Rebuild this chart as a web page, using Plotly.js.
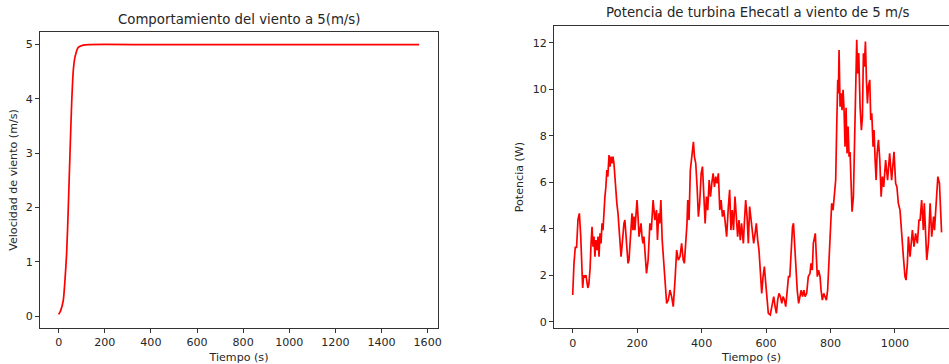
<!DOCTYPE html>
<html>
<head>
<meta charset="utf-8">
<script src="https://cdn.plot.ly/plotly-3.0.1.min.js"></script>
<style>html,body{margin:0;padding:0;background:#fff;}#chart{width:949px;height:364px;}</style>
</head>
<body>
<div id="chart"></div>
<script>
// ---- Data ----
const windTime  = [0, 8.6, 20, 27.3, 34.5, 41.8, 49, 56.2, 63.5, 70.7, 85, 106.7, 130, 400, 800, 1200, 1563];
const windSpeed = [0.03, 0.10, 0.29, 0.66, 1.15, 2.01, 2.99, 3.91, 4.53, 4.77, 4.95, 4.99, 5.0, 5.0, 5.0, 5.0, 5.0];

const powerTime = [
  0, 2, 4, 8, 12, 16.5, 20.7, 25, 29, 31, 34, 38, 41, 44, 47, 50, 54, 57, 60, 63, 66, 69, 72, 75.5, 78.6, 81.7, 84.8,
  88, 91, 94, 97, 100, 103, 106, 109, 112.7, 115.8, 119, 122, 125, 128, 131, 134, 137, 140.6, 143.7, 146.8, 150,
  153, 156, 159, 162, 165.4, 168.5, 171.6, 174.7, 178, 181, 184, 187, 190, 193, 196.5, 199.6, 202.7, 205.8, 209,
  212, 215, 218, 221,
  224, 229, 234, 239.5, 244, 249.5, 255, 260, 263, 267, 270, 273.6, 277.7, 281, 286, 291.5, 296.6, 301.8, 307, 312,
  317.5, 322.6, 327.8, 333, 338, 343, 346.5, 350.5, 354.7, 357, 361, 365, 369.5, 374.6, 377.7, 381.8, 386, 390, 394,
  398.6, 402.7, 406.8, 411, 415, 419, 423.4, 427.5, 431.6, 435.7, 439.9, 444, 448, 452, 456.4, 460.5, 464.6, 468.8,
  472.5, 477.7, 483, 487, 491, 495, 499, 503.5, 507.7, 511.8, 516, 520, 524, 529.5, 532.6, 536.7, 541, 545, 549, 553,
  557, 561.6, 566, 569.8, 574, 578, 582, 586.5, 590.7, 594.7, 599, 603, 607, 613, 619.7, 623.7, 628, 632, 636, 640,
  644.6, 648.7, 652.8, 657, 661, 665, 669.6, 673.7, 678, 682, 685, 688.5, 692.6, 696.7, 701, 705, 709, 713, 717.5,
  721, 726, 731, 736.3, 739.4, 743.5, 746.6, 749.7, 752.8, 756, 759, 763, 767.5, 770.6, 774.7, 778.9, 783, 787, 791,
  795.4, 799.5, 803.6, 807.8, 812, 816, 819, 822.4, 824.4, 826.5, 829.6, 832.7, 835.8, 838.9, 842, 845, 848.2, 851.3,
  854.4, 857.5, 860.6, 863.7, 866.8, 871, 874, 877.2, 881.3, 884.4, 887.5, 891.7, 895.8, 899, 902, 905, 908.3, 911.4,
  914.5, 917.6, 921.7, 924.8, 928, 932, 935, 938.4, 941.5, 944.6, 948.7, 952.9, 957, 961, 965,
  971, 977, 983.5, 989.6, 997, 1002, 1006, 1010.4, 1015.6, 1021, 1026, 1031, 1034.3, 1038.5, 1041.6, 1046.8, 1054,
  1059, 1064, 1069.4, 1074.5, 1078, 1082.7, 1088, 1091, 1095, 1098.6, 1103.8, 1109, 1114, 1119.6, 1122.6, 1127.8,
  1133, 1138, 1144.5
];
const powerValue = [
  1.15, 2.0, 2.5, 3.2, 3.2, 4.4, 4.66, 3.66, 2.2, 1.45, 2.0, 1.9, 2.0, 1.7, 1.45, 1.6, 2.3, 3.37, 4.08, 3.23, 3.66, 2.8, 3.51, 3.08, 3.66, 2.8, 3.8,
  3.37, 4.23, 3.94, 4.8, 5.38, 5.8, 6.52, 6.24, 7.17, 6.67, 7.1, 6.81, 7.1, 6.81, 6.24, 5.38, 5.09, 4.66, 3.94, 3.37, 2.8,
  3.23, 3.94, 4.23, 4.37, 3.51, 2.8, 2.51, 2.65, 3.37, 4.23, 4.66, 3.94, 4.52, 3.94, 4.52, 5.23, 4.52, 3.66, 3.94,
  4.23, 3.66, 3.37, 3.66,
  3.08, 2.08, 2.65, 4.23, 3.94, 5.23, 4.37, 4.8, 3.51, 4.66, 4.23, 5.23, 3.51, 2.8, 1.94, 0.79, 0.93, 1.36, 1.08, 0.65,
  1.79, 3.08, 2.65, 2.8, 3.37, 2.65, 2.51, 3.37, 4.23, 5.23, 4.37, 6.52, 7.1, 7.74, 7.1, 6.81, 5.8, 4.52, 5.09,
  6.38, 6.67, 5.38, 4.23, 5.38, 4.8, 6.09, 5.38, 5.95, 6.38, 5.8, 6.24, 5.95, 6.38, 4.8, 5.23, 4.52, 4.8,
  4.37, 3.66, 4.95, 5.67, 3.94, 4.8, 3.94, 5.38, 4.52, 3.66, 4.37, 3.51, 4.23, 3.37, 4.23, 5.23, 4.52, 3.37, 4.95, 4.52,
  3.94, 3.37, 3.8, 4.23, 3.51, 3.08, 2.22, 1.22, 1.94, 2.37, 1.65, 0.93, 0.36, 0.29, 0.79, 1.08, 0.65, 0.36, 0.93, 1.22,
  1.08, 0.79, 1.08, 0.93, 0.65, 1.36, 1.94, 1.94, 3.08, 4.08, 4.23, 3.23, 2.08, 1.36, 0.79, 1.08, 1.36, 1.08, 1.36,
  1.08, 1.22, 1.94, 2.08, 2.51, 2.22, 3.37, 3.66, 3.8, 2.8, 1.94, 2.22, 1.94, 1.36, 0.93, 1.22, 1.08, 0.93, 1.36,
  2.8, 3.94, 5.09, 4.8, 5.52, 6.09, 8.24, 10.4, 9.82, 11.68, 9.25, 9.82, 9.1, 9.97, 9.1, 7.53, 9.2, 7.24,
  8.39, 7.1, 7.3, 5.67, 4.73, 5.38, 7.39, 9.68, 12.12, 10.68, 11.55, 9.25, 8.24, 8.82, 11.55, 10.97, 12.05, 10.4,
  9.39, 10.11, 10.4, 8.67, 8.96, 7.53, 8.24, 6.95, 6.09, 7.24, 7.82, 6.95, 5.38, 6.24, 5.8,
  6.95, 6.09, 7.24, 6.09, 7.31, 5.95, 5.8, 5.09, 4.8, 3.94, 2.8, 1.94, 1.79, 2.51, 3.66, 2.8, 3.94,
  3.23, 3.8, 3.37, 4.37, 4.37, 5.23, 3.94, 5.09, 3.8, 2.65, 3.37, 5.09, 3.66, 4.52, 3.94, 4.95,
  6.24, 5.95, 3.84
];

const leftTicks  = [0, 200, 400, 600, 800, 1000, 1200, 1400, 1600];
const leftYTicks = [0, 1, 2, 3, 4, 5];
const rightTicks = [0, 200, 400, 600, 800, 1000];
const rightYTicks = [0, 2, 4, 6, 8, 10, 12];

const leftTitle  = 'Comportamiento del viento a 5(m/s)';
const rightTitle = 'Potencia de turbina Ehecatl a viento de 5 m/s';
const xLabel = 'Tiempo (s)';
const leftYLabel = 'Velocidad de viento (m/s)';
const rightYLabel = 'Potencia (W)';

// ---- Chart ----
const W = 949, H = 364;
const txt = '#262626', frame = '#333333';
const tickFont = {family: 'DejaVu Sans, sans-serif', size: 11.1, color: txt};

function axisBase(extra) {
  return Object.assign({
    ticks: 'outside', ticklen: 4, tickwidth: 1, tickcolor: frame,
    showline: true, linecolor: frame, linewidth: 1,
    showgrid: false, zeroline: false, tickfont: tickFont, automargin: false
  }, extra);
}

const traces = [
  {x: windTime, y: windSpeed, type: 'scatter', mode: 'lines', xaxis: 'x', yaxis: 'y',
   line: {color: '#ff0000', width: 1.7, shape: 'spline', smoothing: 0.6}, hoverinfo: 'skip'},
  {x: powerTime, y: powerValue, type: 'scatter', mode: 'lines', xaxis: 'x2', yaxis: 'y2',
   line: {color: '#ff0000', width: 1.7}, hoverinfo: 'skip'}
];

const layout = {
  width: W, height: H,
  margin: {l: 0, r: 0, t: 0, b: 0},
  paper_bgcolor: '#ffffff', plot_bgcolor: '#ffffff',
  showlegend: false,
  font: {family: 'DejaVu Sans, sans-serif', size: 11.1, color: txt},
  xaxis: axisBase({domain: [40/W, 438/W], range: [-81, 1645], tickvals: leftTicks, mirror: true, anchor: 'y',
    title: {text: xLabel, standoff: 4, font: {size: 11.1, color: txt}}}),
  yaxis: axisBase({domain: [1 - 328/H, 1 - 32/H], range: [-0.221, 5.232], tickvals: leftYTicks, mirror: true, anchor: 'x',
    title: {text: leftYLabel, standoff: 5, font: {size: 11.1, color: txt}}}),
  xaxis2: axisBase({domain: [554/W, 1], range: [-58, 1167.6], tickvals: rightTicks, mirror: true, anchor: 'y2',
    title: {text: xLabel, standoff: 4, font: {size: 11.1, color: txt}}}),
  yaxis2: axisBase({domain: [1 - 328.3/H, 1 - 25.7/H], range: [-0.284, 12.73], tickvals: rightYTicks, mirror: false, anchor: 'x2',
    title: {text: rightYLabel, standoff: 6, font: {size: 11.1, color: txt}}}),
  annotations: [
    {text: leftTitle, xref: 'paper', yref: 'paper', x: 239/W, y: 1 - 19.5/H, xanchor: 'center', yanchor: 'middle',
     showarrow: false, font: {family: 'DejaVu Sans, sans-serif', size: 13.3, color: txt}},
    {text: rightTitle, xref: 'paper', yref: 'paper', x: 757/W, y: 1 - 13/H, xanchor: 'center', yanchor: 'middle',
     showarrow: false, font: {family: 'DejaVu Sans, sans-serif', size: 13.3, color: txt}}
  ]
};

Plotly.newPlot('chart', traces, layout, {staticPlot: true, displayModeBar: false});
</script>
</body>
</html>
